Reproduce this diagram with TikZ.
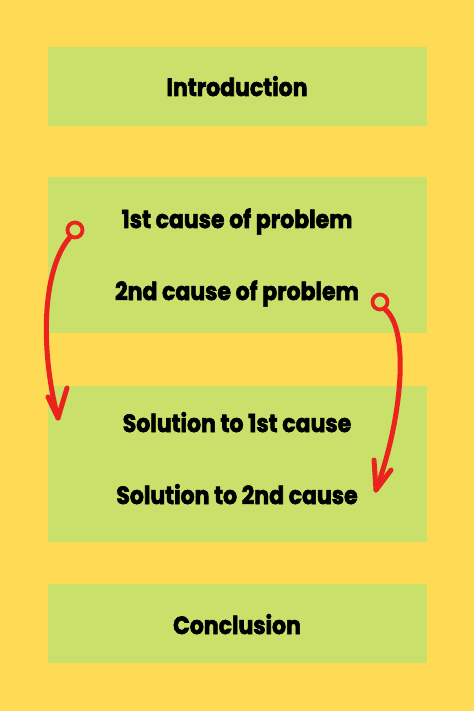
\documentclass[tikz,border=0pt]{standalone}
\usepackage{fontspec}
\usepackage{graphicx}
\setmainfont{Poppins}[BoldFeatures={FakeBold=2.6}]
\definecolor{bgyellow}{RGB}{255,218,85}
\definecolor{boxgreen}{RGB}{201,224,106}
\definecolor{arrowred}{RGB}{235,35,30}
\newcommand{\tallbold}[1]{\scalebox{1}[1.13]{\bfseries #1}}
\tikzset{
  box/.style={fill=boxgreen, draw=none, minimum width=379pt, inner sep=0pt},
  label/.style={font=\fontsize{22}{26}\selectfont, text=black, inner sep=0pt, anchor=base},
  redline/.style={draw=arrowred, line width=5pt, line cap=round, line join=round},
  ring/.style={circle, draw=arrowred, line width=3.8pt, minimum size=15pt, inner sep=0pt}
}
\begin{document}
\begin{tikzpicture}[x=1pt,y=-1pt]
\fill[bgyellow] (0,0) rectangle (474,711);
\useasboundingbox (0,0) rectangle (474,711);
\node[box, minimum height=79pt] (b1) at (237.5,86.5) {};
\node[box, minimum height=156pt] (b2) at (237.5,255) {};
\node[box, minimum height=156pt] (b3) at (237.5,464) {};
\node[box, minimum height=79pt] (b4) at (237.5,623.5) {};
\node[label] (t1) at (237,96) {\tallbold{Introduction}};
\node[label] (t2) at (237,228) {\tallbold{1st cause of problem}};
\node[label] (t3) at (237,300) {\tallbold{2nd cause of problem}};
\node[label] (t4) at (237,432) {\tallbold{Solution to 1st cause}};
\node[label] (t5) at (237,504) {\tallbold{Solution to 2nd cause}};
\node[label] (t6) at (237,634) {\tallbold{Conclusion}};
% left arrow
\node[ring] (o1) at (75,230) {};
\coordinate (e1) at (58,418);
\coordinate (l1) at (48,397);
\coordinate (r1) at (67,388);
\draw[redline] (o1.-125) .. controls (42,270) and (40,350) .. (e1);
\draw[redline] (l1) -- (e1) -- (r1);
% right arrow
\node[ring] (o2) at (380,302) {};
\coordinate (e2) at (376,490);
\coordinate (l2) at (374,460);
\coordinate (r2) at (391,470);
\draw[redline] (o2.-55) .. controls (410,330) and (402,420) .. (e2);
\draw[redline] (l2) -- (e2) -- (r2);
\end{tikzpicture}
\end{document}
